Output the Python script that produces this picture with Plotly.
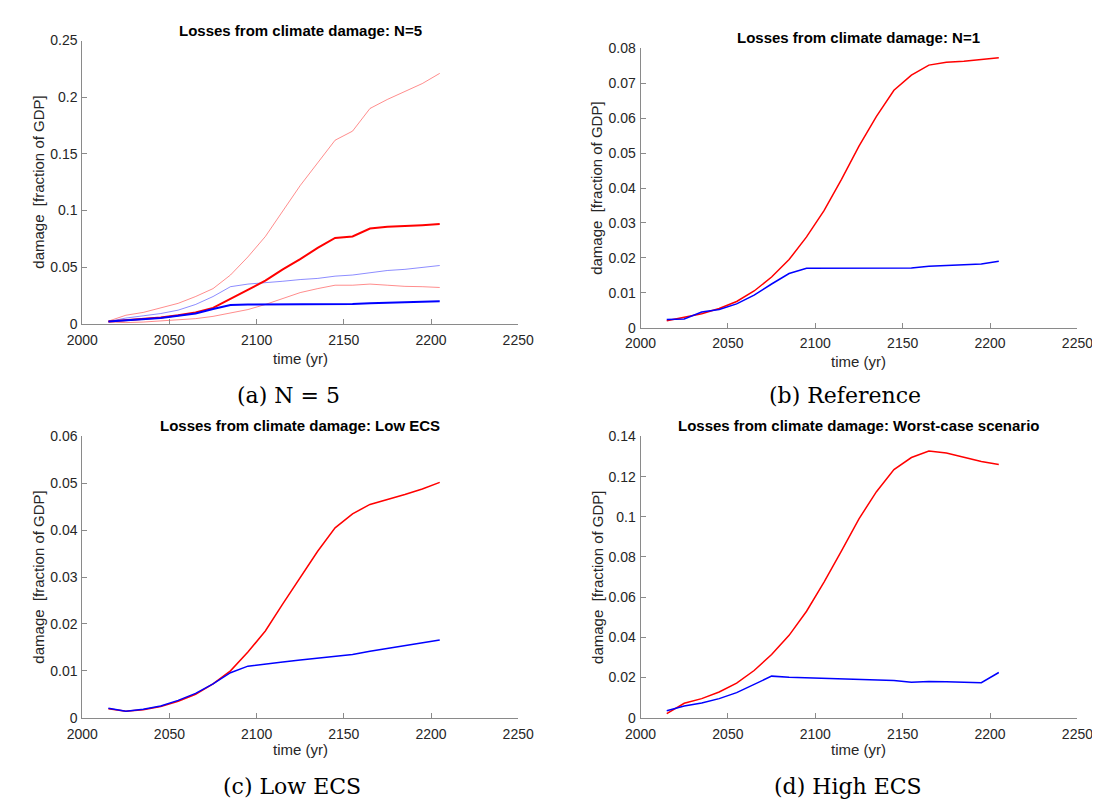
import plotly.graph_objects as go

years = [2015, 2025, 2035, 2045, 2055, 2065, 2075, 2085, 2095, 2105,
         2115, 2125, 2135, 2145, 2155, 2165, 2175, 2185, 2195, 2205]

# (a) N = 5
a_red_hi = [0.0023, 0.0075, 0.010, 0.014, 0.018, 0.024, 0.031, 0.043, 0.059, 0.077,
            0.099, 0.122, 0.142, 0.162, 0.170, 0.190, 0.198, 0.205, 0.212, 0.221]
a_red_mean = [0.002, 0.003, 0.004, 0.0055, 0.0075, 0.010, 0.014, 0.022, 0.030, 0.038,
              0.048, 0.057, 0.067, 0.0757, 0.077, 0.084, 0.0855, 0.086, 0.087, 0.088]
a_red_lo = [0.0015, 0.001, 0.0015, 0.0025, 0.003, 0.0045, 0.0065, 0.0095, 0.0125, 0.017,
            0.0225, 0.0275, 0.031, 0.034, 0.034, 0.035, 0.034, 0.033, 0.0327, 0.032]
a_blue_hi = [0.002, 0.005, 0.007, 0.009, 0.012, 0.017, 0.024, 0.0327, 0.035, 0.036,
             0.0375, 0.039, 0.040, 0.042, 0.043, 0.045, 0.047, 0.048, 0.0495, 0.0514]
a_blue_mean = [0.002, 0.003, 0.004, 0.005, 0.007, 0.009, 0.013, 0.0165, 0.017, 0.017,
               0.0172, 0.0173, 0.0174, 0.0176, 0.0175, 0.018, 0.0185, 0.019, 0.0192, 0.0198]

# (b) Reference
b_red = [0.002, 0.003, 0.004, 0.0055, 0.0075, 0.0105, 0.0145, 0.0195, 0.026, 0.0335,
         0.0425, 0.052, 0.0605, 0.068, 0.0723, 0.0752, 0.076, 0.0763, 0.0767, 0.0773]
b_blue = [0.0023, 0.0025, 0.0045, 0.0052, 0.0068, 0.0093, 0.0125, 0.0155, 0.017, 0.017,
          0.0171, 0.0171, 0.0172, 0.0172, 0.0171, 0.0176, 0.0178, 0.018, 0.0182, 0.019]

# (c) Low ECS
c_red = [0.0019, 0.0014, 0.0017, 0.0024, 0.0035, 0.005, 0.0072, 0.010, 0.014, 0.0185,
         0.0243, 0.030, 0.0355, 0.0405, 0.0435, 0.0455, 0.0465, 0.0476, 0.0488, 0.0502]
c_blue = [0.002, 0.0014, 0.0018, 0.0025, 0.0037, 0.0052, 0.0072, 0.0096, 0.011, 0.0115,
          0.0119, 0.0123, 0.0127, 0.0131, 0.0135, 0.0142, 0.0148, 0.0154, 0.016, 0.0166]

# (d) High ECS
d_red = [0.002, 0.0072, 0.0095, 0.0128, 0.0172, 0.0235, 0.0315, 0.041, 0.053, 0.0675,
         0.083, 0.099, 0.1125, 0.1235, 0.1295, 0.1327, 0.1318, 0.1295, 0.1275, 0.126]
d_blue = [0.0035, 0.0058, 0.0073, 0.0095, 0.0125, 0.0165, 0.0207, 0.0201, 0.0198, 0.0197,
          0.0195, 0.019, 0.0189, 0.0185, 0.0177, 0.018, 0.0179, 0.0178, 0.0174, 0.0225]

titles = ["Losses from climate damage: N=5", "Losses from climate damage: N=1",
          "Losses from climate damage: Low ECS", "Losses from climate damage: Worst-case scenario"]
captions = ["(a) N = 5", "(b) Reference", "(c) Low ECS", "(d) High ECS"]
y_max = [0.25, 0.08, 0.06, 0.14]
y_dtick = [0.05, 0.01, 0.01, 0.02]

W, H = 1100, 802
RED = "#FF0000"
BLUE = "#0000FF"

fig = go.Figure()

def add(x, y, color, width, ax):
    fig.add_trace(go.Scatter(x=x, y=y, mode="lines", line=dict(color=color, width=width),
                             xaxis="x" + ax, yaxis="y" + ax, showlegend=False, hoverinfo="skip"))

add(years, a_red_hi, "rgba(255,0,0,0.45)", 1, "")
add(years, a_red_lo, "rgba(255,0,0,0.45)", 1, "")
add(years, a_blue_hi, "rgba(0,0,255,0.45)", 1, "")
add(years, a_red_mean, RED, 2, "")
add(years, a_blue_mean, BLUE, 2, "")
add(years, b_red, RED, 1.5, "2")
add(years, b_blue, BLUE, 1.5, "2")
add(years, c_red, RED, 1.5, "3")
add(years, c_blue, BLUE, 1.5, "3")
add(years, d_red, RED, 1.5, "4")
add(years, d_blue, BLUE, 1.5, "4")

# pixel boxes: left, right, top, bottom
boxes = [(60, 509, 25, 314), (635, 1085, 33, 318), (60, 509, 429, 716), (635, 1085, 429, 716)]
title_y = [15, 22, 418, 418]
xlab_y = [349, 353, 748, 748]
ylab_x = [15, 590, 15, 590]
cap_x = [272, 846, 276, 849]
cap_y = [387, 387, 786, 786]

FONT = "Liberation Sans, Arial, Helvetica"
axis_common = dict(showline=True, linecolor="#8a8a8a", linewidth=1, ticks="inside", ticklen=5,
                   tickcolor="#8a8a8a", showgrid=False, zeroline=False,
                   tickfont=dict(family=FONT, size=14, color="#262626"))
layout = {}
annotations = []
for i, (l, r, t, b) in enumerate(boxes):
    suf = "" if i == 0 else str(i + 1)
    layout["xaxis" + suf] = dict(domain=[l / W, r / W], range=[2000, 2250], dtick=50,
                                 anchor="y" + suf, ticklabelstandoff=3, **axis_common)
    layout["yaxis" + suf] = dict(domain=[1 - b / H, 1 - t / H], range=[0, y_max[i]], dtick=y_dtick[i],
                                 anchor="x" + suf, ticklabelstandoff=1, **axis_common)
    cx = (l + r) / 2 / W
    annotations.append(dict(text="<b>" + titles[i] + "</b>", x=cx, y=1 - title_y[i] / H, xref="paper",
                            yref="paper", showarrow=False, xanchor="center", yanchor="middle",
                            font=dict(family=FONT, size=15, color="#000000")))
    annotations.append(dict(text="time (yr)", x=cx, y=1 - xlab_y[i] / H, xref="paper", yref="paper",
                            showarrow=False, xanchor="center", yanchor="middle",
                            font=dict(family=FONT, size=15, color="#262626")))
    annotations.append(dict(text="damage  [fraction of GDP]", x=ylab_x[i] / W, y=1 - (t + b) / 2 / H,
                            xref="paper", yref="paper", showarrow=False, textangle=-90,
                            xanchor="center", yanchor="middle",
                            font=dict(family=FONT, size=15, color="#262626")))
for i in range(4):
    annotations.append(dict(text=captions[i], x=cap_x[i] / W, y=1 - cap_y[i] / H, xref="paper",
                            yref="paper", showarrow=False, xanchor="center", yanchor="middle",
                            font=dict(family="DejaVu Serif, Liberation Serif", size=22, color="#000000")))

fig.update_layout(width=W, height=H, margin=dict(l=0, r=0, t=0, b=0),
                  paper_bgcolor="white", plot_bgcolor="white", annotations=annotations, **layout)

fig.write_html("out.html")
